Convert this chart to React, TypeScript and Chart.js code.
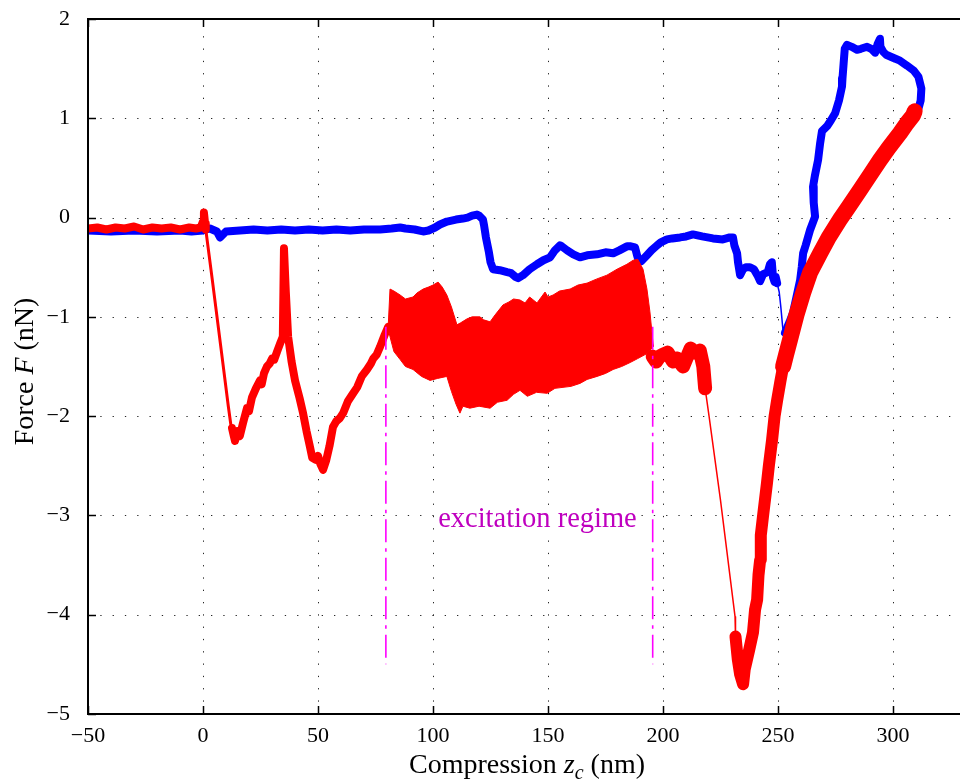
import React, { useEffect, useRef } from 'react';
import { Chart, registerables } from 'chart.js';

Chart.register(...registerables);

type P = [number, number];

// ---------- axes ----------
const X_MIN = -50;
const X_MAX = 329.1;
const Y_MIN = -5;
const Y_MAX = 2;
const xTickValues = [-50, 0, 50, 100, 150, 200, 250, 300];
const yTickValues = [-5, -4, -3, -2, -1, 0, 1, 2];

// ---------- approach curve (red) ----------
const redBaseline: P[] = [
  [-50, -0.11], [-46, -0.1], [-42, -0.12], [-38, -0.1], [-34, -0.11], [-30, -0.09], [-26, -0.12],
  [-22, -0.1], [-18, -0.11], [-14, -0.1], [-10, -0.12], [-6, -0.1], [-3, -0.11], [-1, -0.1],
  [0, -0.04], [0.4, 0.05], [0.9, -0.06], [1.2, -0.12],
];
const redDrop1: P[] = [[1.2, -0.12], [4, -0.62], [8, -1.35], [11, -1.9], [12.6, -2.17]];
const redSawtooth: P[] = [
  [12.6, -2.12], [13.4, -2.2], [13.9, -2.25], [15, -2.15], [16, -2.2], [17.4, -2.07], [19.1, -1.92],
  [20, -1.95], [21.3, -1.81], [23, -1.72], [24.8, -1.64], [25.5, -1.68], [26.5, -1.57], [27.8, -1.5],
  [29, -1.47], [30, -1.42], [31, -1.43], [32.2, -1.35], [33.5, -1.27], [34.7, -1.2], [35.2, -0.31],
  [36, -0.75], [37, -1.2], [38.5, -1.45], [40, -1.64], [42, -1.82], [43.5, -1.97], [45, -2.15],
  [46.5, -2.31], [47.5, -2.42], [49, -2.44], [50, -2.4], [51, -2.48], [52.2, -2.54], [53.5, -2.45],
  [55, -2.3], [56.5, -2.11], [58, -2.05], [59.5, -2.02], [60.9, -1.97], [63, -1.85], [65, -1.78],
  [67, -1.71], [69, -1.6], [71.3, -1.53], [73, -1.47], [74, -1.42], [75.5, -1.38], [77, -1.3],
  [79, -1.18], [80.5, -1.1],
];
const excitationUpper: P[] = [
  [80.5, -1.1], [81.3, -0.72], [83, -0.74], [85.7, -0.78], [88, -0.82], [91.3, -0.8], [93, -0.76],
  [95.7, -0.72], [98, -0.7], [100, -0.68], [102.2, -0.65], [104, -0.7], [106, -0.78], [108, -0.9],
  [110.4, -1.08], [112, -1.06], [114.8, -1.02], [117, -1.0], [120.4, -1.0], [122, -1.03], [124.8, -1.05],
  [127, -0.98], [130.4, -0.88], [133, -0.85], [135, -0.82], [137.8, -0.83], [140, -0.86], [142, -0.8],
  [145.2, -0.86], [148.7, -0.75], [150, -0.8], [152.2, -0.78], [155, -0.74], [159.6, -0.72],
  [163, -0.68], [167, -0.66], [171, -0.62], [175.6, -0.58], [180, -0.52], [184.3, -0.47], [187, -0.43],
  [189, -0.42], [191.3, -0.52], [193, -0.72], [194.3, -0.95], [195.7, -1.28],
];
const excitationLower: P[] = [
  [80.5, -1.12], [81.3, -1.2], [83, -1.35], [85.7, -1.43], [88, -1.5], [91.3, -1.53], [95, -1.6],
  [98.7, -1.64], [102, -1.62], [106, -1.6], [108, -1.75], [110, -1.88], [111.7, -1.97], [113, -1.9],
  [116, -1.92], [120, -1.9], [124.8, -1.92], [128, -1.86], [132.2, -1.84], [135, -1.78], [137.8, -1.74],
  [141, -1.8], [145, -1.76], [149.6, -1.77], [153, -1.72], [156.5, -1.71], [160, -1.7], [163.9, -1.67],
  [167, -1.63], [171.3, -1.6], [175, -1.57], [178.3, -1.53], [182, -1.5], [185.7, -1.46], [189, -1.42],
  [193, -1.37], [195.7, -1.3],
];
const redPlateau: P[] = [
  [195.5, -1.4], [197, -1.45], [198.5, -1.4], [200, -1.38], [202, -1.36], [204.3, -1.45], [206, -1.42],
  [208.7, -1.5], [210.5, -1.4], [212, -1.32], [214, -1.36], [216, -1.34], [217.5, -1.5], [218.3, -1.72],
];
const redDrop2: P[] = [[218.3, -1.72], [220, -2.0], [225, -2.85], [231.3, -4.02], [231.5, -4.22]];
const redValley: P[] = [
  [231.5, -4.22], [232.5, -4.45], [233.5, -4.6], [234.8, -4.7], [235.5, -4.55], [236.5, -4.45],
  [237.5, -4.35], [239.1, -4.18], [240, -3.95], [240.9, -3.85], [241.5, -3.6], [242.2, -3.45],
  [242.5, -3.2], [243.5, -3.0], [245.2, -2.67], [246, -2.5], [247.4, -2.24], [248.5, -2.0],
  [249.6, -1.84], [251, -1.65], [252.2, -1.5],
];
const redClimb: P[] = [
  [252.2, -1.5], [253.5, -1.38], [255.2, -1.23], [258, -0.98], [260.9, -0.76], [264, -0.55],
  [268.3, -0.36], [272, -0.2], [276.9, -0.02], [281, 0.12], [285.7, 0.28], [290, 0.43], [294.3, 0.58],
  [298, 0.7], [303, 0.85], [306, 0.95], [308.7, 1.03], [309.4, 1.07],
];

// ---------- retraction curve (blue) ----------
const blueLoop: P[] = [
  [310.5, 1.05], [312, 1.18], [312.3, 1.3], [311, 1.42], [309, 1.48], [306.1, 1.53], [303, 1.58],
  [300, 1.61], [297, 1.64], [295.7, 1.67], [294.5, 1.72], [294.3, 1.8], [293.3, 1.75], [292.2, 1.66],
  [290.5, 1.7], [288.7, 1.72], [286, 1.7], [284.3, 1.69], [282, 1.72], [280, 1.74], [279, 1.7],
  [278.5, 1.55], [278, 1.4], [277.8, 1.32], [276.5, 1.18], [274.8, 1.05], [273, 0.98], [271.3, 0.92],
  [269.1, 0.87], [268.3, 0.75], [267.4, 0.58], [266, 0.42], [265.2, 0.31], [265.5, 0.15],
  [266.1, 0.01], [264, -0.12], [263, -0.2], [262, -0.28], [260.9, -0.36], [260.3, -0.5],
  [259.6, -0.63], [258, -0.8], [256.5, -0.96], [255, -1.05], [253, -1.16],
];
const blueSnap: P[] = [[253, -1.16], [252.6, -1.22], [252, -1.1], [251.2, -0.9], [250.5, -0.75], [249.6, -0.66]];
const blueRetract: P[] = [
  [249.6, -0.66], [249, -0.6], [248.5, -0.65], [247.8, -0.6], [247.3, -0.45], [246.5, -0.47],
  [245.5, -0.55], [243.5, -0.57], [242.2, -0.64], [241, -0.58], [239.5, -0.52], [237.8, -0.5],
  [236, -0.5], [234.8, -0.52], [233.5, -0.58], [232.6, -0.45], [232.2, -0.36], [231, -0.28],
  [230.4, -0.2], [229, -0.2], [226, -0.22], [221.7, -0.21], [217, -0.19], [213, -0.17], [210, -0.19],
  [207.4, -0.2], [204, -0.21], [201.7, -0.22], [199, -0.25], [197.4, -0.28], [195, -0.33], [193, -0.38],
  [190.5, -0.44], [189.5, -0.44], [188.7, -0.38], [187.8, -0.3], [186, -0.29], [184.3, -0.29],
  [181, -0.33], [178.3, -0.36], [175, -0.35], [171.3, -0.37], [167, -0.38], [163.9, -0.4], [161, -0.37],
  [158.3, -0.33], [156, -0.29], [155.2, -0.28], [153, -0.33], [150.9, -0.4], [148, -0.43],
  [145.2, -0.47], [142, -0.52], [139.1, -0.58], [137, -0.61], [136, -0.6], [134, -0.56], [132.2, -0.55],
  [129, -0.53], [126.1, -0.52], [125, -0.45], [124.3, -0.35], [123, -0.2], [122.2, -0.08],
  [121.7, -0.02], [120, 0.02], [119.1, 0.03], [117, 0.02], [115, 0.0], [113, -0.01], [110, -0.02],
  [106.1, -0.04], [103, -0.07], [100.9, -0.1], [98, -0.13], [95.7, -0.14], [92, -0.12], [88, -0.11],
  [85.7, -0.1], [82, -0.11], [77, -0.12], [70, -0.12], [64, -0.13], [58, -0.12], [52, -0.13],
  [46, -0.12], [40, -0.13], [34, -0.12], [28, -0.13], [22, -0.12], [16, -0.13], [10, -0.14],
  [7.4, -0.2], [6, -0.14], [3, -0.11], [0, -0.13], [-5, -0.14], [-10, -0.13], [-20, -0.14],
  [-30, -0.13], [-40, -0.14], [-50, -0.13],
];

// ---------- excitation regime markers ----------
const regimeBoundsX = [79.5, 195.5];
const regimeLineY = [-1.1, -4.5];
const regimeLabel = 'excitation regime';
const regimeLabelPos: P = [145.4, -3.12];

const FONT = '"Liberation Serif", "Times New Roman", serif';
const RED = '#ff0000';
const BLUE = '#0000ff';
const MAGENTA = '#ff00ff';
const LABEL_MAGENTA = '#bf00bf';

const pts = (a: P[]) => a.map(([x, y]) => ({ x, y }));
const fmt = (v: number) => (v < 0 ? '\u2212' + Math.abs(v) : String(v));

function lineDs(data: P[], color: string, width: number, order: number, extra: any = {}) {
  return {
    data: pts(data),
    borderColor: color,
    backgroundColor: color,
    borderWidth: width,
    pointRadius: 0,
    tension: 0,
    fill: false,
    clip: 0,
    borderJoinStyle: 'round',
    borderCapStyle: 'round',
    order,
    ...extra,
  };
}

function drawRich(ctx: CanvasRenderingContext2D, parts: [string, string][], cx: number, baseline: number, size: number) {
  const fontFor = (kind: string) => {
    if (kind === 'italic') return `italic ${size}px ${FONT}`;
    if (kind === 'sub') return `italic ${Math.round(size * 0.72)}px ${FONT}`;
    return `${size}px ${FONT}`;
  };
  let total = 0;
  const widths = parts.map(([t, k]) => {
    ctx.font = fontFor(k);
    const w = ctx.measureText(t).width;
    total += w;
    return w;
  });
  let x = cx - total / 2;
  ctx.textAlign = 'left';
  ctx.textBaseline = 'alphabetic';
  parts.forEach(([t, k], i) => {
    ctx.font = fontFor(k);
    ctx.fillText(t, x, baseline + (k === 'sub' ? size * 0.22 : 0));
    x += widths[i];
  });
}

const decorPlugin = {
  id: 'decor',
  beforeDatasetsDraw(chart: any) {
    const { ctx, chartArea: a, scales } = chart;
    const x = scales.x;
    const y = scales.y;
    ctx.save();
    ctx.strokeStyle = 'rgba(0,0,0,0.85)';
    ctx.lineWidth = 1;
    ctx.setLineDash([1.3, 11]);
    for (const v of xTickValues) {
      if (v === X_MIN) continue;
      const px = Math.round(x.getPixelForValue(v)) + 0.5;
      ctx.beginPath();
      ctx.moveTo(px, a.bottom);
      ctx.lineTo(px, a.top);
      ctx.stroke();
    }
    for (const v of yTickValues) {
      if (v === Y_MIN || v === Y_MAX) continue;
      const py = Math.round(y.getPixelForValue(v)) + 0.5;
      ctx.beginPath();
      ctx.moveTo(a.left, py);
      ctx.lineTo(a.right, py);
      ctx.stroke();
    }
    ctx.restore();
  },
  afterDatasetsDraw(chart: any) {
    const { ctx, chartArea: a, scales } = chart;
    const x = scales.x;
    const y = scales.y;
    ctx.save();
    const lx = x.getPixelForValue(regimeLabelPos[0]);
    const ly = y.getPixelForValue(regimeLabelPos[1]);
    ctx.font = `28.5px ${FONT}`;
    const w = ctx.measureText(regimeLabel).width;
    ctx.fillStyle = '#ffffff';
    ctx.fillRect(lx - w / 2 - 4, ly - 22, w + 8, 30);
    ctx.fillStyle = LABEL_MAGENTA;
    ctx.textAlign = 'center';
    ctx.textBaseline = 'alphabetic';
    ctx.fillText(regimeLabel, lx, ly);
    ctx.strokeStyle = '#000';
    ctx.lineWidth = 2;
    ctx.beginPath();
    ctx.moveTo(a.right + 2, a.top);
    ctx.lineTo(a.left, a.top);
    ctx.lineTo(a.left, a.bottom);
    ctx.lineTo(a.right + 2, a.bottom);
    ctx.stroke();
    ctx.lineWidth = 1.5;
    for (const v of xTickValues) {
      const px = Math.round(x.getPixelForValue(v)) + 0.5;
      ctx.beginPath();
      ctx.moveTo(px, a.bottom);
      ctx.lineTo(px, a.bottom - 8);
      ctx.moveTo(px, a.top);
      ctx.lineTo(px, a.top + 8);
      ctx.stroke();
    }
    for (const v of yTickValues) {
      const py = Math.round(y.getPixelForValue(v)) + 0.5;
      ctx.beginPath();
      ctx.moveTo(a.left, py);
      ctx.lineTo(a.left + 8, py);
      ctx.stroke();
    }
    ctx.restore();
  },
  afterDraw(chart: any) {
    const { ctx } = chart;
    ctx.save();
    ctx.fillStyle = '#000';
    drawRich(ctx, [['Compression ', 'n'], ['z', 'italic'], ['c', 'sub'], [' (nm)', 'n']], 527, 773, 28);
    ctx.translate(33, 371.5);
    ctx.rotate(-Math.PI / 2);
    drawRich(ctx, [['Force ', 'n'], ['F', 'italic'], [' (nN)', 'n']], 0, 0, 28);
    ctx.restore();
  },
};

export default function App() {
  const ref = useRef<HTMLCanvasElement | null>(null);
  useEffect(() => {
    if (!ref.current) return;
    const excitationShape: P[] = [...excitationUpper, ...excitationLower.slice().reverse()];
    const regimeLines = regimeBoundsX.map((bx) =>
      lineDs(regimeLineY.map((yy) => [bx, yy] as P), MAGENTA, 1.6, -1, {
        borderDash: [23, 6, 3.5, 6],
        borderCapStyle: 'butt',
      })
    );
    const chart = new Chart(ref.current, {
      type: 'line',
      data: {
        datasets: [
          ...regimeLines,
          lineDs(redBaseline, RED, 8, 0),
          lineDs(redDrop1, RED, 3, 0),
          lineDs(redSawtooth, RED, 8, 0),
          lineDs(excitationShape, RED, 1, 0, { fill: 'shape' }),
          lineDs(redPlateau, RED, 14, 0),
          lineDs(redDrop2, RED, 1.5, 0),
          lineDs(redValley, RED, 12, 0),
          lineDs(redClimb, RED, 16, 0),
          lineDs(blueLoop, BLUE, 8, 1),
          lineDs(blueSnap, BLUE, 1.5, 1),
          lineDs(blueRetract, BLUE, 8, 1),
        ] as any,
      },
      options: {
        responsive: false,
        animation: false,
        devicePixelRatio: 1,
        layout: { padding: { top: 19, right: 0, bottom: 0, left: 0 } },
        plugins: { legend: { display: false }, tooltip: { enabled: false } },
        scales: {
          x: {
            type: 'linear',
            min: X_MIN,
            max: X_MAX,
            grid: { display: false },
            border: { display: false },
            afterBuildTicks: (s: any) => {
              s.ticks = xTickValues.map((value) => ({ value }));
            },
            afterFit: (s: any) => {
              s.height = 68;
              s.paddingLeft = 0;
              s.paddingRight = 0;
            },
            ticks: {
              font: { family: FONT, size: 22 },
              color: '#000',
              padding: 1,
              autoSkip: false,
              maxRotation: 0,
              callback: (v: any) => fmt(Number(v)),
            },
          },
          y: {
            type: 'linear',
            min: Y_MIN,
            max: Y_MAX,
            grid: { display: false },
            border: { display: false },
            afterBuildTicks: (s: any) => {
              s.ticks = yTickValues.map((value) => ({ value }));
            },
            afterFit: (s: any) => {
              s.width = 88;
              s.paddingTop = 0;
              s.paddingBottom = 0;
            },
            ticks: {
              font: { family: FONT, size: 22 },
              color: '#000',
              padding: 10,
              autoSkip: false,
              callback: (v: any) => fmt(Number(v)),
            },
          },
        },
      } as any,
      plugins: [decorPlugin],
    });
    return () => chart.destroy();
  }, []);
  return (
    <div style={{ position: 'absolute', left: 0, top: 0, width: 960, height: 782, background: '#fff' }}>
      <canvas ref={ref} width={960} height={782} style={{ width: 960, height: 782, display: 'block' }} />
    </div>
  );
}
